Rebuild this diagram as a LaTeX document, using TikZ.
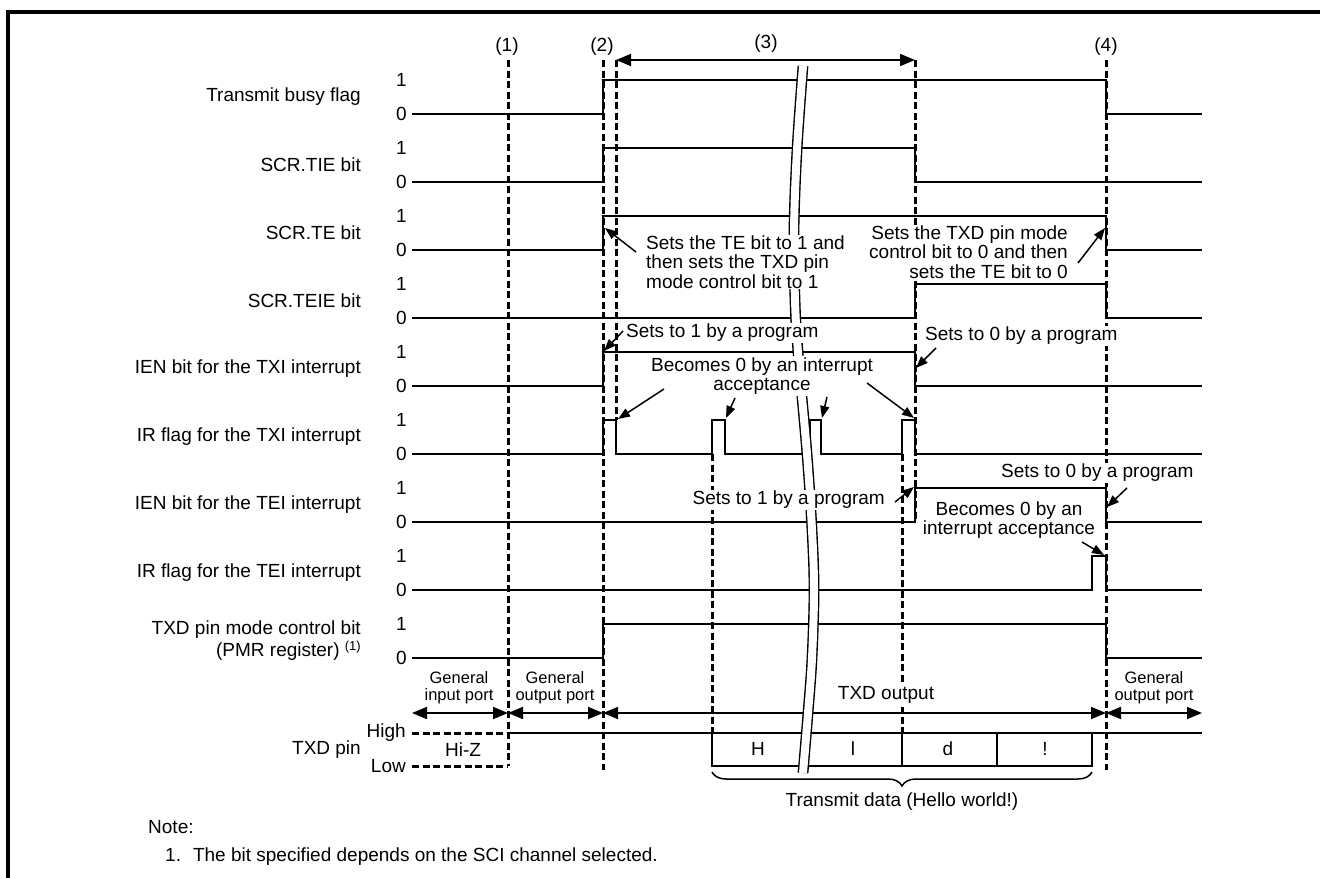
\documentclass[tikz,border=0pt]{standalone}
\usepackage{fontspec}
\setmainfont{Liberation Sans}
\usetikzlibrary{arrows.meta,decorations.pathreplacing}
\begin{document}
\begin{tikzpicture}[x=1pt,y=-1pt,
  txt/.style={font=\fontsize{19}{20}\selectfont, inner sep=0pt},
  small/.style={font=\fontsize{16.5}{17}\selectfont, inner sep=0pt, align=center},
  ann/.style={font=\fontsize{19}{19.5}\selectfont, fill=white, inner sep=1pt},
  sig/.style={line width=1.8pt, line join=miter},
  dsh/.style={line width=3pt, dash pattern=on 7pt off 3.5pt},
  arr/.style={line width=1.5pt, -{Triangle[length=12pt,width=9pt]}},
  dim/.style={line width=1.8pt, {Triangle[length=15pt,width=12pt]}-{Triangle[length=15pt,width=12pt]}},
]
\useasboundingbox (0,0) rectangle (1320,878);
% frame
\draw[line width=3.5pt] (8,878) -- (8,12) -- (1320,12);

% row labels
\foreach \k/\nm in {0/Transmit busy flag, 1/SCR.TIE bit, 2/SCR.TE bit, 3/SCR.TEIE bit,
  4/IEN bit for the TXI interrupt, 5/IR flag for the TXI interrupt,
  6/IEN bit for the TEI interrupt, 7/IR flag for the TEI interrupt}
  \node[txt, anchor=east] (name\k) at (361,{97+68*\k}) {\nm};
\node[txt, anchor=east, align=right, font=\fontsize{19}{22}\selectfont] (name8) at (361,641)
  {TXD pin mode control bit\\(PMR register) \raisebox{0.6ex}{\fontsize{13}{13}\selectfont(1)}};
\foreach \k in {0,...,8}{
  \node[txt, anchor=east] (one\k) at (407,{80+68*\k}) {1};
  \node[txt, anchor=east] (zero\k) at (407,{114+68*\k}) {0};
}
\node[txt, anchor=east] (txdpin) at (361,750) {TXD pin};
\node[txt, anchor=east] (high) at (406,733) {High};
\node[txt, anchor=east] (low) at (406,766) {Low};

% event markers
\node[txt] (m1) at (507,47) {(1)};
\node[txt] (m2) at (602,47) {(2)};
\node[txt] (m3) at (766,44) {(3)};
\node[txt] (m4) at (1106,47) {(4)};

% dashed time lines
\draw[dsh] (508,60) -- (508,766);
\draw[dsh] (603,60) -- (603,770);
\draw[dsh] (616,60) -- (616,420);
\draw[dsh] (712,454) -- (712,733);
\draw[dsh] (902,454) -- (902,733);
\draw[dsh] (915,60) -- (915,522);
\draw[dsh] (1106,60) -- (1106,770);

% (3) span
\coordinate (s3a) at (616,60);
\coordinate (s3b) at (915,60);
\draw[dim] (s3a) -- (s3b);

% signals
\draw[sig] (412,114) -- (603,114) -- (603,80) -- (1106,80) -- (1106,114) -- (1202,114);
\draw[sig] (412,182) -- (603,182) -- (603,148) -- (915,148) -- (915,182) -- (1202,182);
\draw[sig] (412,250) -- (603,250) -- (603,216) -- (1106,216) -- (1106,250) -- (1202,250);
\draw[sig] (412,318) -- (915,318) -- (915,284) -- (1106,284) -- (1106,318) -- (1202,318);
\draw[sig] (412,386) -- (603,386) -- (603,352) -- (915,352) -- (915,386) -- (1202,386);
\draw[sig] (412,454) -- (603,454) -- (603,420) -- (616,420) -- (616,454) -- (712,454)
  -- (712,420) -- (725,420) -- (725,454) -- (810,454) -- (810,420) -- (821,420) -- (821,454)
  -- (902,454) -- (902,420) -- (915,420) -- (915,454) -- (1202,454);
\draw[sig] (412,522) -- (915,522) -- (915,488) -- (1106,488) -- (1106,522) -- (1202,522);
\draw[sig] (412,590) -- (1092,590) -- (1092,556) -- (1106,556) -- (1106,590) -- (1202,590);
\draw[sig] (412,658) -- (603,658) -- (603,624) -- (1106,624) -- (1106,658) -- (1202,658);

% port arrows
\coordinate (p0) at (412,713);
\coordinate (p1) at (508,713);
\coordinate (p2) at (603,713);
\coordinate (p3) at (1106,713);
\coordinate (p4) at (1202,713);
\draw[dim] (p0) -- (p1);
\draw[dim] (p1) -- (p2);
\draw[dim] (p2) -- (p3);
\draw[dim] (p3) -- (p4);
\node[small] (gin) at (459,688) {General\\input port};
\node[small] (gout1) at (555,688) {General\\output port};
\node[small] (gout2) at (1154,688) {General\\output port};

% TXD pin
\draw[dsh] (412,733) -- (508,733);
\draw[dsh] (412,766) -- (508,766);
\draw[sig] (508,733) -- (1202,733);
\draw[sig] (712,733) -- (712,766) -- (1092,766) -- (1092,733);
\draw[sig] (902,733) -- (902,766);
\draw[sig] (997,733) -- (997,766);
\node[txt] (hiz) at (463,750) {Hi-Z};
\node[txt] (bH) at (758,749) {H};
\node[txt] (bl) at (853,749) {l};
\node[txt] (bd) at (948,749) {d};
\node[txt] (bex) at (1045,749) {!};

% brace
\draw[line width=1.5pt, decorate, decoration={brace, mirror, amplitude=14pt}] (712,772) -- (1092,772);
\node[txt] (tdata) at (902,802) {Transmit data (Hello world!)};

% time break
\draw[double=white, double distance=8pt, line width=1.4pt]
  plot[smooth, tension=0.6] coordinates {(803,66) (797,150) (794,230) (795,300) (798,352)
  (807,454) (812,530) (814,590) (812,658) (808,713) (803,773)};

% annotations
\node[ann, anchor=west, align=left] (a1) at (645,262)
  {Sets the TE bit to 1 and\\then sets the TXD pin\\mode control bit to 1};
\draw[arr] (636,252) -- (605,228);

\node[ann, anchor=east, align=right] (a2) at (1069,252)
  {Sets the TXD pin mode\\control bit to 0 and then\\sets the TE bit to 0};
\draw[arr] (1078,263) -- (1105,228);

\node[ann, anchor=west] (a3) at (625,333) {Sets to 1 by a program};
\draw[arr] (623,331) -- (604,351);

\node[ann, anchor=west] (a4) at (924,336) {Sets to 0 by a program};
\draw[arr] (936,348) -- (916,368);

\node[ann, align=center] (a5) at (762,376) {Becomes 0 by an interrupt\\acceptance};
\draw[arr] (664,389) -- (618,419);
\draw[arr] (735,398) -- (726,418);
\draw[arr] (827,397) -- (822,418);
\draw[arr] (867,383) -- (914,418);

\node[ann, anchor=east] (a6) at (886,500) {Sets to 1 by a program};
\draw[arr] (895,502) -- (914,487);

\node[ann, anchor=west] (a7) at (1000,473) {Sets to 0 by a program};
\draw[arr] (1127,488) -- (1107,507);

\node[ann, align=center] (a8) at (1009,520) {Becomes 0 by an\\interrupt acceptance};
\draw[arr] (1082,542) -- (1104,555);

\node[ann, inner sep=3pt] (txdout) at (886,695) {TXD output};

% note
\node[txt, anchor=west] (note) at (148,827) {Note:};
\node[txt, anchor=west] (note1) at (165,857) {1.\hspace{12pt}The bit specified depends on the SCI channel selected.};
\end{tikzpicture}
\end{document}
